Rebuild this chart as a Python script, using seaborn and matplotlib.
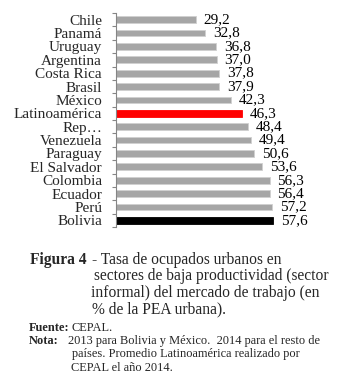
import matplotlib
matplotlib.use('Agg')
import matplotlib.pyplot as plt
import seaborn as sns

paises = ['Chile', 'Panamá', 'Uruguay', 'Argentina', 'Costa Rica', 'Brasil', 'México',
          'Latinoamérica', 'Rep…', 'Venezuela', 'Paraguay', 'El Salvador', 'Colombia',
          'Ecuador', 'Perú', 'Bolivia']
tasas = [29.2, 32.8, 36.8, 37.0, 37.8, 37.9, 42.3, 46.3, 48.4, 49.4, 50.6, 53.6,
         56.3, 56.4, 57.2, 57.6]
colores = ['#a6a6a6'] * 7 + ['#ff0000'] + ['#a6a6a6'] * 7 + ['#000000']

sns.set_style('white')
plt.rcParams['font.family'] = ['Liberation Serif', 'DejaVu Serif']

W, H = 341, 386
fig = plt.figure(figsize=(W / 100, H / 100), dpi=100)
ax = fig.add_axes([116 / W, 1 - 227 / H, 215 / W, 214 / H])

sns.barplot(x=tasas, y=paises, hue=paises, palette=colores, legend=False,
            width=0.5, orient='h', ax=ax, saturation=1,
            edgecolor='#d0d0d0', linewidth=0.6)
# las barras negra y roja sin borde claro
for bar, c in zip(ax.patches, colores):
    if c != '#a6a6a6':
        bar.set_edgecolor(c)

for cont in ax.containers:
    ax.bar_label(cont, labels=[f'{v:.1f}'.replace('.', ',') for v in cont.datavalues],
                 padding=5.5, fontsize=11, color='black')

ax.set_xlim(0, 78.8)
ax.set_ylim(len(paises) - 0.5, -0.5)
ax.set_xticks([])
ax.set_xlabel('')
ax.set_ylabel('')
ax.set_yticks(range(len(paises)))
ax.set_yticklabels(paises, fontsize=11)
ax.set_yticks([i - 0.5 for i in range(len(paises) + 1)], minor=True)
ax.tick_params(axis='y', which='major', length=0, pad=10)
ax.tick_params(axis='y', which='minor', length=3, width=0.8, color='#868686', left=True)
for s in ['top', 'right', 'bottom']:
    ax.spines[s].set_visible(False)
ax.spines['left'].set_color('#868686')
ax.spines['left'].set_linewidth(0.8)


def fy(px):
    return 1 - px / H


fig.text(30 / W, fy(264), 'Figura 4', fontsize=11.2, fontweight='bold', va='baseline')
fig.text(92 / W, fy(264), '- Tasa de ocupados urbanos en', fontsize=11.2, va='baseline')
fig.text(94 / W, fy(280.5), 'sectores de baja productividad (sector', fontsize=11.2, va='baseline')
fig.text(91 / W, fy(297), 'informal) del mercado de trabajo (en', fontsize=11.2, va='baseline')
fig.text(92 / W, fy(313), '% de la PEA urbana).', fontsize=11.2, va='baseline')

fig.text(29 / W, fy(331), 'Fuente:', fontsize=8.9, fontweight='bold', va='baseline')
fig.text(71 / W, fy(331), 'CEPAL.', fontsize=8.9, va='baseline')
fig.text(29 / W, fy(344), 'Nota:', fontsize=8.9, fontweight='bold', va='baseline')
fig.text(67.5 / W, fy(344), '2013 para Bolivia y México.  2014 para el resto de',
         fontsize=8.9, va='baseline')
fig.text(72 / W, fy(357.5), 'países. Promedio Latinoamérica realizado por',
         fontsize=8.9, va='baseline')
fig.text(71 / W, fy(371), 'CEPAL el año 2014.', fontsize=8.9, va='baseline')

fig.savefig('out.png', dpi=100)
